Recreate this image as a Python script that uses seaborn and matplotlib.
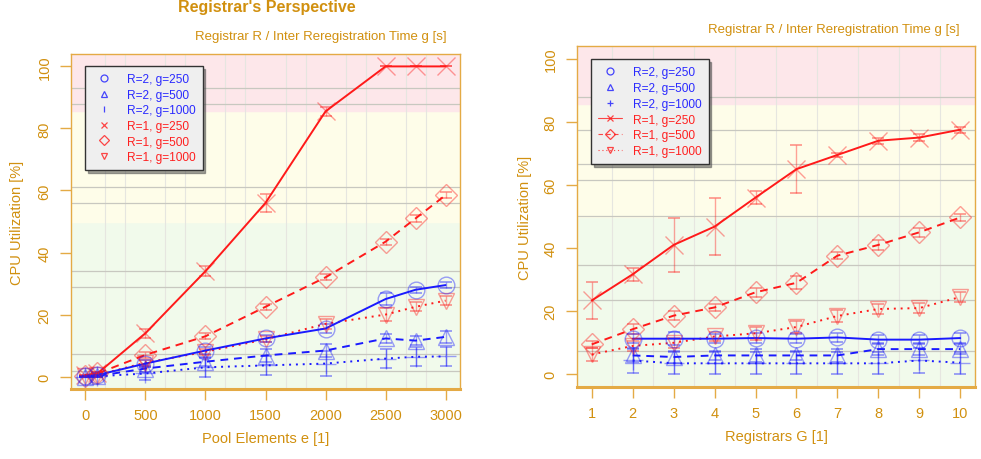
import matplotlib
matplotlib.use("Agg")
import matplotlib.pyplot as plt
import seaborn as sns
import numpy as np
import pandas as pd
from matplotlib.lines import Line2D
from matplotlib.ticker import MultipleLocator, FixedLocator

# ---------------- data ----------------
# Left panel: Pool Elements e
pe_x = [0, 100, 500, 1000, 1500, 2000, 2500, 2750, 3000]
pe_r1_g250 = [0.5, 1.0, 14.0, 34.0, 56.0, 85.5, 100.0, 100.0, 100.0]
pe_r1_g500 = [0.3, 1.0, 7.0, 13.0, 22.5, 32.0, 43.5, 51.0, 58.5]
pe_r1_g1000 = [0.2, 0.5, 4.5, 8.0, 12.0, 17.0, 20.0, 22.5, 24.5]
pe_r2_g250 = [0.2, 0.5, 4.2, 8.4, 12.3, 15.5, 25.0, 28.0, 29.5]
pe_r2_g500 = [0.0, 0.2, 2.6, 4.8, 6.8, 8.4, 12.3, 11.6, 12.8]
pe_r2_g1000 = [0.0, 0.1, 1.0, 3.0, 3.6, 4.2, 5.8, 6.4, 6.5]
pe_err_r1_g250 = [0, 0.5, 1.5, 1.5, 3.0, 1.5, 0, 0, 0]
pe_err_r1_g500 = [0, 0.5, 1.0, 1.0, 1.0, 1.0, 1.0, 1.0, 1.0]
pe_err_r1_g1000 = [0, 0.5, 1.0, 1.0, 1.0, 1.5, 2.0, 1.5, 1.5]
pe_err_r2_g250 = [0, 0.5, 1.0, 1.0, 1.0, 1.5, 2.0, 1.0, 1.0]
pe_err_r2_g500 = [0, 0.3, 1.0, 1.5, 2.0, 2.0, 1.5, 1.5, 2.0]
pe_err_r2_g1000 = [0, 0.3, 2.0, 3.0, 3.0, 4.0, 3.0, 3.0, 3.0]

# Right panel: Registrars G
rg_x1 = [1, 2, 3, 4, 5, 6, 7, 8, 9, 10]
rg_x2 = [2, 3, 4, 5, 6, 7, 8, 9, 10]
rg_r1_g250 = [23.4, 31.7, 41.0, 46.8, 56.0, 65.0, 69.5, 74.0, 75.0, 77.5]
rg_r1_g500 = [9.5, 14.3, 18.6, 21.2, 26.0, 29.0, 37.6, 41.0, 45.0, 49.7]
rg_r1_g1000 = [6.3, 9.0, 10.0, 12.0, 13.0, 15.0, 18.5, 20.7, 21.0, 24.5]
rg_r2_g250 = [11.3, 11.3, 11.3, 11.5, 11.3, 11.7, 11.0, 11.0, 11.5]
rg_r2_g500 = [6.0, 5.5, 6.0, 6.0, 6.0, 6.0, 8.0, 8.0, 8.0]
rg_r2_g1000 = [4.4, 3.5, 3.5, 3.5, 3.5, 3.5, 3.5, 4.4, 3.7]
rg_err_r1_g250 = [6.0, 2.0, 8.5, 9.0, 2.0, 7.5, 0.5, 1.0, 1.0, 1.0]
rg_err_r1_g500 = [1.0, 1.5, 1.5, 1.0, 1.5, 2.0, 1.0, 1.5, 1.5, 1.0]
rg_err_r1_g1000 = [2.0, 1.5, 1.5, 1.5, 2.0, 2.0, 2.0, 1.5, 1.5, 1.5]
rg_err_r2_g250 = [1.5, 2.0, 1.5, 1.5, 1.5, 1.5, 1.5, 1.5, 1.5]
rg_err_r2_g500 = [2.0, 2.0, 1.5, 2.0, 1.5, 2.0, 2.0, 2.0, 1.5]
rg_err_r2_g1000 = [4.0, 3.5, 3.5, 3.5, 3.5, 3.5, 3.5, 4.0, 3.5]

legend_labels = ["R=2, g=250", "R=2, g=500", "R=2, g=1000",
                 "R=1, g=250", "R=1, g=500", "R=1, g=1000"]

title_left = "Registrar's Perspective"
subtitle = "Registrar R / Inter Reregistration Time g [s]"
ylabel = "CPU Utilization [%]"
xlabel_left = "Pool Elements e [1]"
xlabel_right = "Registrars G [1]"
xticks_left = [0, 500, 1000, 1500, 2000, 2500, 3000]
xticks_right = list(range(1, 11))
yticks = [0, 20, 40, 60, 80, 100]
hgrid_left = [1.9, 7.4, 29, 34, 56, 61, 88, 93]
hgrid_right = [7.3, 23.4, 34.5, 50.3, 61.7, 66.5, 77.5, 88]

# ---------------- style ----------------
sns.set_theme(style="white")
plt.rcParams['font.family'] = ['Liberation Sans', 'DejaVu Sans']

ORANGE = "#d1900f"
SPINE = "#e4aa45"
RED = "#ff1a1a"
BLUE = "#1a1aff"
RED_T = "#ff2020"
BLUE_T = "#2a2aff"

fig = plt.figure(figsize=(9.81, 4.6), dpi=100)
axL = fig.add_axes([71/981, 1-390/460, 389/981, 335/460])
axR = fig.add_axes([577/981, 1-388/460, 398/981, 341/460])


def draw_series(ax, x, y, err, color, ls, marker, ms, mew=1.0):
    df = pd.DataFrame({"x": x, "y": y})
    sns.lineplot(data=df, x="x", y="y", ax=ax, color=color, linestyle=ls,
                 linewidth=1.4, zorder=4, legend=False)
    ax.errorbar(x, y, yerr=err, fmt="none", ecolor=color, elinewidth=1.0,
                capsize=4, capthick=1.4, alpha=0.4, zorder=3)
    sns.lineplot(data=df, x="x", y="y", ax=ax, color=color, linestyle="",
                 marker=marker, markersize=ms, markerfacecolor="none",
                 markeredgecolor=color, markeredgewidth=mew, alpha=0.42,
                 zorder=5, legend=False)


def style_axes(ax, xlim, xticks, hgrid, xminor, xlabel, ylabelpad):
    ax.set_ylim(-4, 104)
    ax.set_xlim(*xlim)
    ax.axhspan(-10, 50, color="#f1faeb", zorder=0)
    ax.axhspan(50, 85.5, color="#fefde9", zorder=0)
    ax.axhspan(85.5, 110, color="#fde7ea", zorder=0)
    ax.xaxis.set_minor_locator(MultipleLocator(xminor))
    ax.yaxis.set_minor_locator(FixedLocator(hgrid))
    ax.grid(which="minor", axis="x", color="#e6e6e0", linewidth=0.8, zorder=1)
    ax.grid(which="minor", axis="y", color="#c8c8c0", linewidth=0.9, zorder=1)
    ax.grid(which="major", visible=False)
    ax.tick_params(which="minor", length=0)
    ax.set_xticks(xticks)
    ax.set_yticks(yticks)
    ax.set_yticklabels([str(v) for v in yticks], rotation=90, va="center")
    ax.tick_params(which="major", direction="out", length=8, width=1.0,
                   color=SPINE, labelcolor=ORANGE, labelsize=10.5, pad=6,
                   bottom=True, left=True)
    for s in ax.spines.values():
        s.set_color(SPINE)
        s.set_linewidth(1.0)
    ax.spines["bottom"].set_linewidth(2.2)
    ax.set_xlabel(xlabel, color=ORANGE, fontsize=10.5, labelpad=6)
    ax.set_ylabel(ylabel, color=ORANGE, fontsize=10.5, labelpad=ylabelpad)


# Left panel
style_axes(axL, (-120, 3120), xticks_left, hgrid_left, 500/3, xlabel_left, 10)
draw_series(axL, pe_x, pe_r1_g250, pe_err_r1_g250, RED, "-", "x", 13)
draw_series(axL, pe_x, pe_r1_g500, pe_err_r1_g500, RED, (0, (4, 3)), "D", 11)
draw_series(axL, pe_x, pe_r1_g1000, pe_err_r1_g1000, RED, (0, (1, 2.5)), "v", 12)
draw_series(axL, pe_x, pe_r2_g250, pe_err_r2_g250, BLUE, "-", "o", 12)
draw_series(axL, pe_x, pe_r2_g500, pe_err_r2_g500, BLUE, (0, (4, 3)), "^", 12)
draw_series(axL, pe_x, pe_r2_g1000, pe_err_r2_g1000, BLUE, (0, (1, 2.5)), "+", 14)

# Right panel
style_axes(axR, (0.64, 10.36), xticks_right, hgrid_right, 0.5, xlabel_right, 8)
draw_series(axR, rg_x1, rg_r1_g250, rg_err_r1_g250, RED, "-", "x", 13)
draw_series(axR, rg_x1, rg_r1_g500, rg_err_r1_g500, RED, (0, (4, 3)), "D", 11)
draw_series(axR, rg_x1, rg_r1_g1000, rg_err_r1_g1000, RED, (0, (1, 2.5)), "v", 12)
draw_series(axR, rg_x2, rg_r2_g250, rg_err_r2_g250, BLUE, "-", "o", 12)
draw_series(axR, rg_x2, rg_r2_g500, rg_err_r2_g500, BLUE, (0, (4, 3)), "^", 12)
draw_series(axR, rg_x2, rg_r2_g1000, rg_err_r2_g1000, BLUE, (0, (1, 2.5)), "+", 14)

# Legends
left_markers = ["o", "^", "|", "x", "D", "v"]
right_markers = ["o", "^", "+", "x", "D", "v"]
colors = [BLUE, BLUE, BLUE, RED, RED, RED]
text_colors = [BLUE_T, BLUE_T, BLUE_T, RED_T, RED_T, RED_T]
styles = ["-", (0, (4, 3)), (0, (1, 2.5))] * 2


def make_legend(ax, markers, with_lines, anchor, spacing):
    handles = []
    for i, (m, c) in enumerate(zip(markers, colors)):
        ls = styles[i] if (with_lines and i >= 3) else "none"
        handles.append(Line2D([0], [0], color=c, linestyle=ls, linewidth=0.8,
                              marker=m, markersize=5, markerfacecolor="none",
                              markeredgecolor=c, markeredgewidth=0.9,
                              alpha=0.8))
    leg = ax.legend(handles, legend_labels, loc="upper left",
                    bbox_to_anchor=anchor, fontsize=8.6, frameon=True,
                    fancybox=False, shadow=True, handlelength=2.0,
                    handletextpad=0.9, labelspacing=spacing, borderpad=0.6,
                    borderaxespad=0.0)
    leg.get_frame().set_facecolor("#efefef")
    leg.get_frame().set_edgecolor("#333333")
    leg.get_frame().set_linewidth(1.0)
    leg.set_zorder(10)
    for t, c in zip(leg.get_texts(), text_colors):
        t.set_color(c)


make_legend(axL, left_markers, False, (0.036, 0.964), 0.3)
make_legend(axR, right_markers, True, (0.035, 0.962), 0.32)

# Titles
fig.text(267/981, 1.0, title_left, ha="center", va="top",
         color=ORANGE, fontsize=11.5, fontweight="bold")
fig.text(447/981, 1-37/460, subtitle, ha="right", va="center",
         color=ORANGE, fontsize=9.5)
fig.text(960/981, 1-30/460, subtitle, ha="right", va="center",
         color=ORANGE, fontsize=9.5)

fig.savefig("out.png", dpi=100)
